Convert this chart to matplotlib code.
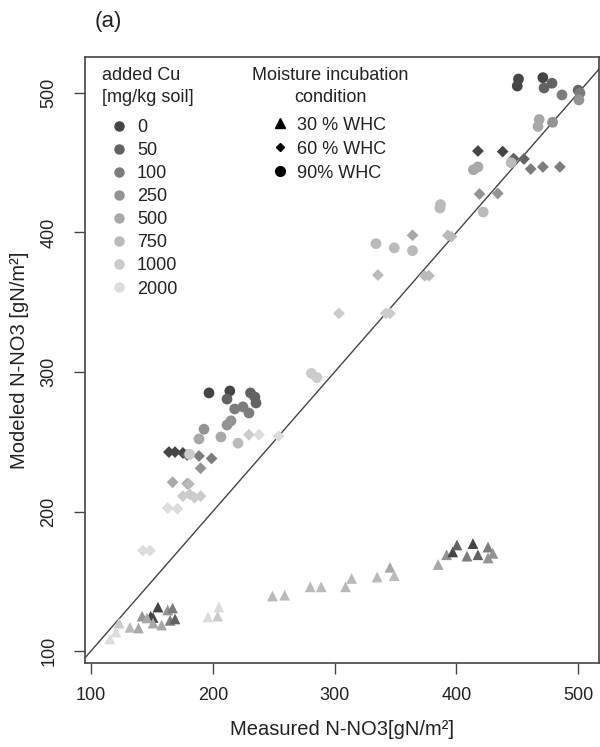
import matplotlib
matplotlib.use("Agg")
import matplotlib.pyplot as plt
from matplotlib.lines import Line2D

plt.rcParams['font.family'] = ['Liberation Sans', 'DejaVu Sans']

# Cu levels and their grey shades
cu_levels = ['0', '50', '100', '250', '500', '750', '1000', '2000']
cu_colors = ['#454545', '#626262', '#7c7c7c', '#939393', '#a8a8a8', '#bababa', '#cbcbcb', '#dcdcdc']

# 90% WHC (circles): measured, modeled, Cu index
meas_90 = [450, 451, 471, 472, 478.5, 486.7, 500, 501.5, 500.6, 468, 467, 479, 414, 417.7, 445,
           422, 387, 386.5, 349, 364, 334, 281, 285.5,
           196.9, 214, 211.7, 231, 234.6, 235.5, 218, 224.8, 229.7, 211.7, 215, 192.8, 188.7, 206.7,
           220.7, 181]
mod_90 = [505, 510, 511, 503.6, 507, 498.6, 502, 500, 495, 481, 476, 479, 445, 447, 450,
          414.7, 420, 417.5, 389, 387, 392, 299, 296,
          285, 286.4, 280.6, 285, 282, 277.8, 273.5, 275, 270.6, 262, 265, 259, 252, 253.4,
          249, 241]
cu_90 = [0, 0, 0, 1, 1, 2, 1, 2, 3, 4, 4, 3, 4, 4, 5,
         5, 5, 5, 5, 5, 5, 6, 6,
         0, 0, 1, 1, 1, 1, 2, 2, 2, 3, 3, 3, 4, 4,
         5, 6]

# 60% WHC (diamonds)
meas_60 = [417.7, 438, 447, 455.5, 461, 471, 485, 419, 434, 364, 393, 396, 374, 377.5, 335.6,
           303.6, 342, 345.5, 229.7, 238, 254, 164, 169, 175.5, 179, 188.7, 199, 190, 167, 179,
           180.5, 175.5, 181, 185, 190, 163, 171, 142.7, 148.4]
mod_60 = [458.4, 458, 453, 452.7, 445.5, 447, 447, 427.6, 428, 398, 398, 397, 369, 369, 369.5,
          342, 342, 342, 255, 255, 254, 242.6, 242.6, 242, 240.5, 239.8, 238, 231, 221, 220,
          219.7, 211, 212.5, 210, 211, 202.5, 202, 172, 172]
cu_60 = [0, 0, 1, 1, 2, 2, 2, 3, 3, 4, 5, 5, 5, 5, 5,
         6, 6, 6, 6, 7, 7, 0, 0, 0, 1, 2, 2, 3, 4, 4,
         5, 6, 6, 6, 6, 7, 7, 7, 7]

# 30% WHC (triangles)
meas_30 = [155, 149, 151, 142, 163, 167, 146, 151, 158, 165, 169, 132, 139, 123, 120.5, 115.6,
           196, 204, 205, 249, 259, 280, 289, 309, 314, 335, 345.5, 349, 385, 392, 397, 400.5,
           413.6, 408.7, 417.7, 426, 430, 426]
mod_30 = [131.5, 125, 124, 125, 129.4, 130.8, 123.7, 120, 118.6, 122, 123, 117, 116.5, 120, 113.6,
          108.6, 124.4, 125, 131.5, 139.4, 140, 146, 146, 146, 152, 153, 160, 154, 162, 169, 171,
          176, 177, 168, 169, 174.5, 170, 166.7]
cu_30 = [0, 0, 0, 3, 3, 2, 4, 4, 4, 2, 1, 5, 4, 6, 7, 7,
         7, 6, 7, 5, 5, 5, 5, 5, 5, 5, 4, 5, 4, 3, 0, 1,
         0, 2, 1, 2, 3, 3]

fig = plt.figure(figsize=(6, 7.47), dpi=100)
ax = fig.add_axes([85 / 600, 1 - 663 / 747, 514 / 600, 606 / 747])

ax.scatter(meas_30, mod_30, c=[cu_colors[i] for i in cu_30], marker='^', s=60, linewidths=0, zorder=3)
ax.scatter(meas_60, mod_60, c=[cu_colors[i] for i in cu_60], marker='D', s=36, linewidths=0, zorder=3)
ax.scatter(meas_90, mod_90, c=[cu_colors[i] for i in cu_90], marker='o', s=60, linewidths=0, zorder=3)

# 1:1 line
ax.plot([0, 600], [0, 600], color='#444444', lw=1, zorder=2)

ax.set_xlim(95.1, 517.1)
ax.set_ylim(91.4, 525.8)
ax.set_xticks([100, 200, 300, 400, 500])
ax.set_yticks([100, 200, 300, 400, 500])
ax.tick_params(axis='both', labelsize=13, length=8, width=1, color='#444444', labelcolor='#222222')
ax.tick_params(axis='x', pad=9)
ax.tick_params(axis='y', pad=12)
for lab in ax.get_yticklabels():
    lab.set_rotation(90)
    lab.set_va('center')
for sp in ax.spines.values():
    sp.set_color('#444444')
    sp.set_linewidth(1.2)

ax.set_xlabel('Measured N-NO3[gN/m²]', fontsize=14.5, labelpad=12, color='#222222')
ax.set_ylabel('Modeled N-NO3 [gN/m²]', fontsize=14.5, labelpad=8, color='#222222')

# legend titles
ax.text(0.033, 0.951, 'added Cu\n[mg/kg soil]', transform=ax.transAxes, fontsize=13,
        ha='left', va='center', linespacing=1.35, color='#222222')
ax.text(0.4767, 0.951, 'Moisture incubation\ncondition', transform=ax.transAxes, fontsize=13,
        ha='center', va='center', multialignment='center', linespacing=1.35, color='#222222')

# legends
cu_handles = [Line2D([], [], marker='o', ls='', color=c, markersize=6.5) for c in cu_colors]
leg1 = ax.legend(cu_handles, cu_levels, loc='upper left', bbox_to_anchor=(0.0486, 0.897),
                 frameon=False, fontsize=13, labelspacing=0.333, handletextpad=0.5,
                 handlelength=1.0, borderpad=0, borderaxespad=0, labelcolor='#222222')
ax.add_artist(leg1)

m_handles = [Line2D([], [], marker='^', ls='', color='black', markersize=7),
             Line2D([], [], marker='D', ls='', color='black', markersize=4),
             Line2D([], [], marker='o', ls='', color='black', markersize=7)]
ax.legend(m_handles, ['30 % WHC', '60 % WHC', '90% WHC'], loc='upper left',
          bbox_to_anchor=(0.3619, 0.9018), frameon=False, fontsize=13, labelspacing=0.39,
          handletextpad=0.44, handlelength=1.0, borderpad=0, borderaxespad=0, labelcolor='#222222')

fig.text(108 / 600, 1 - 22 / 747, '(a)', fontsize=16, ha='center', va='center', color='#222222')

fig.savefig('out.png', dpi=100)
